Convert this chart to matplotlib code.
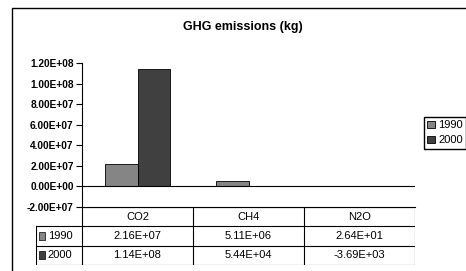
import matplotlib.pyplot as plt
from matplotlib.patches import Rectangle

# data
categories = ['CO2', 'CH4', 'N2O']
years = ['1990', '2000']
v1990 = [2.16e7, 5.11e6, 2.64e1]
v2000 = [1.14e8, 5.44e4, -3.69e3]
yticks = [-2e7, 0, 2e7, 4e7, 6e7, 8e7, 1e8, 1.2e8]
colors = ['#858585', '#404040']

plt.rcParams['font.family'] = ['Liberation Sans', 'DejaVu Sans']

W, H = 466, 271
fig = plt.figure(figsize=(W / 100, H / 100), dpi=100)

def px(x0, y0, x1, y1):
    return [x0 / W, 1 - y1 / H, (x1 - x0) / W, (y1 - y0) / H]

# outer chart frame
fig.patches.append(Rectangle((12 / W, -0.05), 1.1, 1 - 8 / H + 0.05,
                             transform=fig.transFigure, fill=False,
                             edgecolor='black', linewidth=1.0))

fig.text(243 / W, 1 - 27 / H, 'GHG emissions (kg)', ha='center', va='center',
         fontsize=9, fontweight='bold')

# bars
ax = fig.add_axes(px(82, 63, 415, 207))
x = range(len(categories))
w = 0.29
ax.bar([i - w / 2 for i in x], v1990, w, color=colors[0], edgecolor='black', linewidth=0.6, label=years[0])
ax.bar([i + w / 2 for i in x], v2000, w, color=colors[1], edgecolor='black', linewidth=0.6, label=years[1])
ax.axhline(0, color='black', linewidth=0.8)
ax.set_xlim(-0.5, 2.5)
ax.set_ylim(-2e7, 1.2e8)
ax.set_yticks(yticks)
ax.set_yticklabels(['%.2E' % t for t in yticks], fontsize=7.3, fontweight='bold')
ax.tick_params(axis='y', length=4, width=0.8, pad=2)
ax.set_xticks([])
ax.spines['top'].set_visible(False)
ax.spines['right'].set_visible(False)
ax.spines['bottom'].set_linewidth(0.8)
ax.spines['left'].set_linewidth(0.8)

# data table
tab = fig.add_axes(px(36, 207, 415, 265))
tab.set_xlim(-0.5 - 46 / 111, 2.5)
tab.set_ylim(0, 3)
tab.axis('off')
left = -0.5 - 46 / 111
lw = 0.8
tab.plot([-0.5, 2.5], [3, 3], color='black', lw=lw)
for yy in [0, 1, 2]:
    tab.plot([left, 2.5], [yy, yy], color='black', lw=lw)
for xx in [-0.5, 0.5, 1.5, 2.5]:
    tab.plot([xx, xx], [0, 3], color='black', lw=lw)
tab.plot([left, left], [0, 2], color='black', lw=lw)
for i, c in enumerate(categories):
    tab.text(i, 2.5, c, ha='center', va='center', fontsize=8)
rows = [v1990, v2000]
for r, (yr, vals) in enumerate(zip(years, rows)):
    yc = 1.5 - r
    tab.add_patch(Rectangle((left + 0.025, yc - 0.2), 0.06, 0.4, facecolor=colors[r],
                            edgecolor='black', linewidth=0.5))
    tab.text(left + 0.105, yc, yr, ha='left', va='center', fontsize=8)
    for i, v in enumerate(vals):
        tab.text(i, yc, '%.2E' % v, ha='center', va='center', fontsize=8)

# legend
fig.legend(loc='upper left', bbox_to_anchor=(424 / W, 1 - 117 / H), fontsize=8,
           frameon=True, fancybox=False, edgecolor='black', framealpha=1,
           handlelength=0.7, handleheight=0.7, handletextpad=0.3,
           borderpad=0.3, labelspacing=0.45, borderaxespad=0)

fig.savefig('out.png', dpi=100)
